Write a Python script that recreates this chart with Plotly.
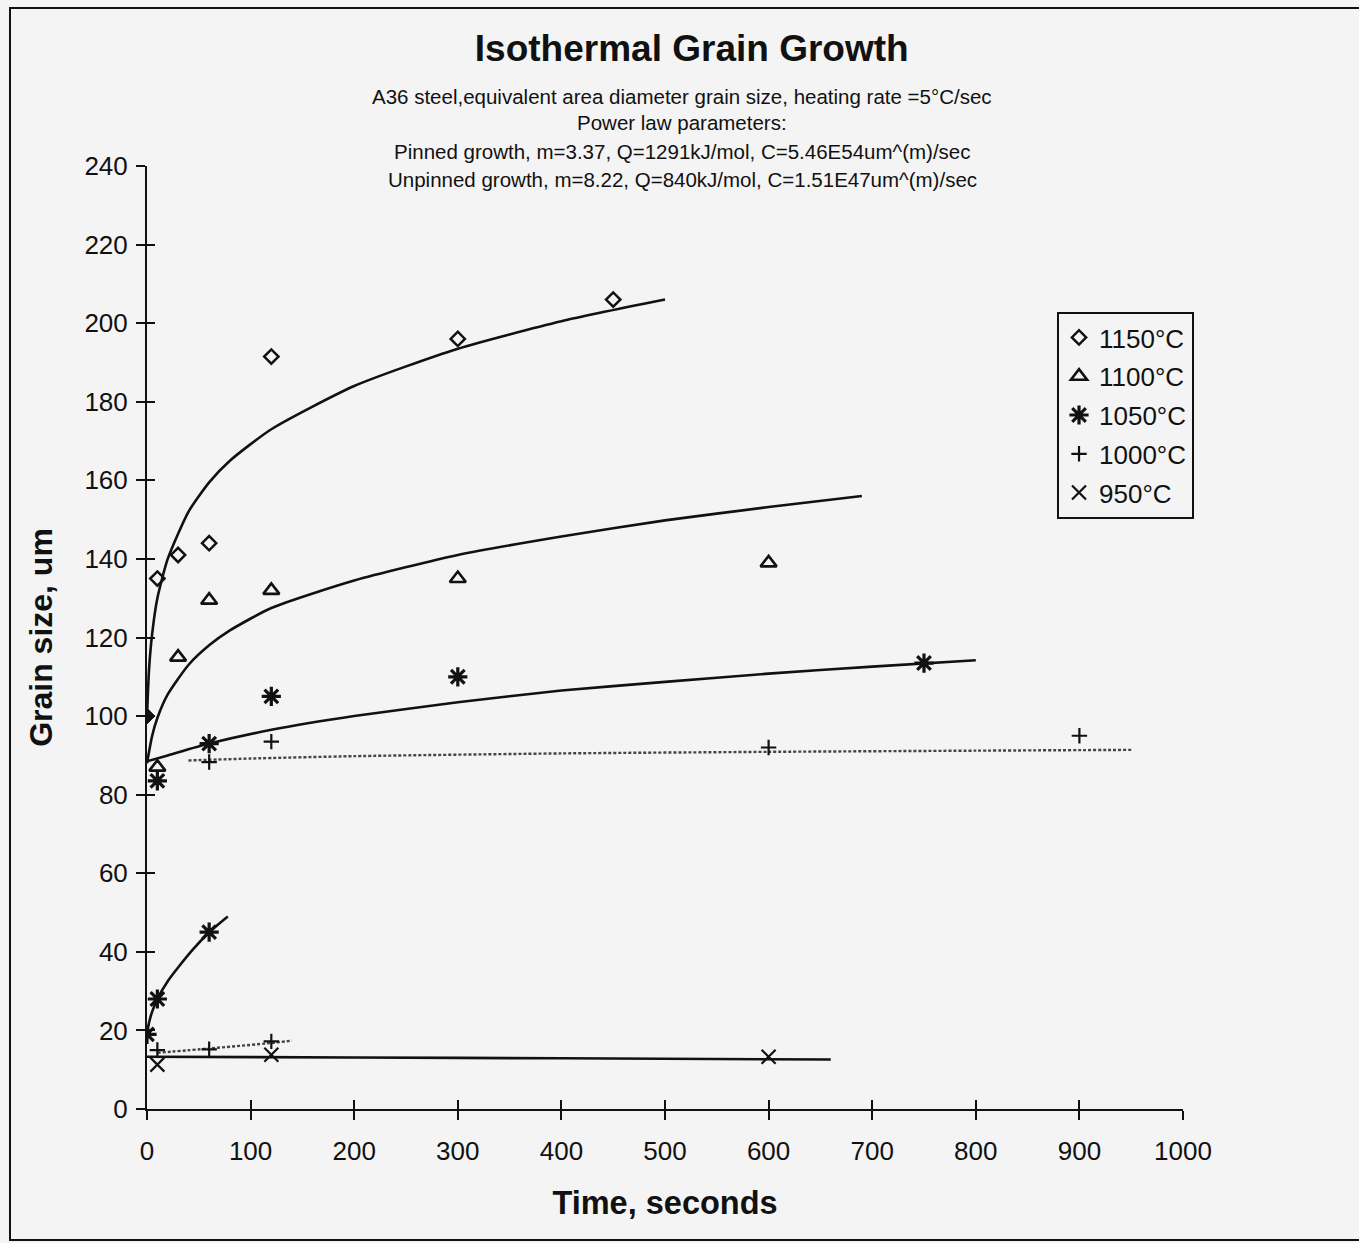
import plotly.graph_objects as go

# Measured grain sizes (um) vs. isothermal hold time (s)
t_1150 = [10, 30, 60, 120, 300, 450]
d_1150 = [135, 141, 144, 191.5, 196, 206]
t_start = [0]
d_start = [100]

t_1100 = [10, 30, 60, 120, 300, 600]
d_1100 = [87, 115, 129.5, 132, 135, 139]

t_1050 = [10, 60, 120, 300, 750, 0, 10, 60]
d_1050 = [83.5, 93, 105, 110, 113.5, 19, 28, 45]

t_1000 = [60, 120, 600, 900, 10, 60, 120]
d_1000 = [88.3, 93.5, 92, 95, 15, 15.2, 17.2]

t_950 = [10, 120, 600]
d_950 = [11.3, 13.8, 13.3]

# Power-law growth curves
fit_1150_t = [0, 2, 5, 10, 20, 40, 60, 80, 120, 200, 300, 400, 500]
fit_1150_d = [100, 112, 121, 130, 140, 152, 159.5, 165, 173, 184, 193.5, 200.5, 206]

fit_1100_t = [0, 5, 10, 20, 40, 60, 80, 120, 200, 300, 400, 500, 600, 690]
fit_1100_d = [88, 95, 99.5, 105.5, 113, 118, 121.8, 127.5, 134.5, 141, 145.7, 149.8, 153.2, 156]

fit_1050_t = [0, 20, 60, 120, 200, 300, 400, 500, 600, 700, 800]
fit_1050_d = [88.5, 90, 93, 96.5, 100, 103.5, 106.5, 108.7, 110.8, 112.6, 114.2]

fit_1000_t = [40, 100, 200, 400, 600, 800, 950]
fit_1000_d = [88.7, 89.2, 89.8, 90.5, 90.9, 91.2, 91.4]

fit_low_1050_t = [0, 2, 5, 10, 20, 30, 45, 60, 78]
fit_low_1050_d = [19, 22, 24.8, 28, 32.5, 36, 40.8, 45, 49]

fit_low_1000_t = [10, 60, 120, 140]
fit_low_1000_d = [14.3, 15.4, 16.8, 17.4]

fit_950_t = [0, 200, 400, 660]
fit_950_d = [13.3, 13.1, 12.9, 12.6]

x_ticks = [0, 100, 200, 300, 400, 500, 600, 700, 800, 900, 1000]
y_ticks = [0, 20, 40, 60, 80, 100, 120, 140, 160, 180, 200, 220, 240]

FONT = "Liberation Sans, Arial, Helvetica, sans-serif"
BG = "#f4f4f4"
INK = "#111111"

fig = go.Figure()

solid = dict(color=INK, width=2.6, shape="spline", smoothing=0.6)
dotted = dict(color="#444444", width=2.4, dash="3px,2px", shape="spline", smoothing=0.6)

curves = [
    (fit_1150_t, fit_1150_d, solid, "1150"),
    (fit_1100_t, fit_1100_d, solid, "1100"),
    (fit_1050_t, fit_1050_d, solid, "1050"),
    (fit_1000_t, fit_1000_d, dotted, "1000"),
    (fit_low_1050_t, fit_low_1050_d, solid, "1050"),
    (fit_low_1000_t, fit_low_1000_d, dotted, "1000"),
    (fit_950_t, fit_950_d, solid, "950"),
]
for tx, dy, ln, grp in curves:
    fig.add_trace(go.Scatter(x=tx, y=dy, mode="lines", line=ln,
                             legendgroup=grp, showlegend=False, hoverinfo="skip"))

series = [
    ("1150°C", "1150", t_1150, d_1150, "diamond-open", 11, 2.5),
    ("1100°C", "1100", t_1100, d_1100, "triangle-up-open", 14, 2.6),
    ("1050°C", "1050", t_1050, d_1050, "asterisk-open", 16, 3.2),
    ("1000°C", "1000", t_1000, d_1000, "cross-thin-open", 11, 2.2),
    ("950°C", "950", t_950, d_950, "x-thin-open", 14, 2.2),
]
for name, grp, tx, dy, sym, size, lw in series:
    fig.add_trace(go.Scatter(
        x=tx, y=dy, mode="markers", name=name, legendgroup=grp,
        marker=dict(symbol=sym, size=size, color=INK, line=dict(color=INK, width=lw)),
    ))

# initial grain size at t = 0
fig.add_trace(go.Scatter(
    x=t_start, y=d_start, mode="markers", legendgroup="1150", showlegend=False,
    marker=dict(symbol="diamond", size=12, color=INK, line=dict(color=INK, width=1)),
))

# companion axes carrying the inner half of the tick marks
fig.add_trace(go.Scatter(x=[], y=[], xaxis="x2", yaxis="y2", showlegend=False))

axis_common = dict(showgrid=False, zeroline=False, showline=True, linecolor=INK,
                   linewidth=2, ticks="outside", ticklen=9, tickwidth=2, tickcolor=INK,
                   tickfont=dict(family=FONT, size=26, color=INK))

fig.update_layout(
    width=1359, height=1243,
    paper_bgcolor=BG, plot_bgcolor=BG,
    margin=dict(l=147, r=176, t=166, b=134),
    showlegend=True,
    xaxis=dict(range=[0, 1000], tickvals=x_ticks, ticklabelstandoff=9,
               title=dict(text="<b>Time, seconds</b>", standoff=26,
                          font=dict(family=FONT, size=32.5, color=INK)),
               **axis_common),
    yaxis=dict(range=[0, 240], tickvals=y_ticks, ticklabelstandoff=3,
               title=dict(text="<b>Grain size, um</b>", standoff=22,
                          font=dict(family=FONT, size=32, color=INK)),
               **axis_common),
    xaxis2=dict(range=[0, 1000], tickvals=x_ticks, overlaying="x", anchor="y2",
                showgrid=False, zeroline=False, showline=False, showticklabels=False,
                ticks="inside", ticklen=9, tickwidth=2, tickcolor=INK, side="bottom"),
    yaxis2=dict(range=[0, 240], tickvals=y_ticks, overlaying="y", anchor="x2",
                showgrid=False, zeroline=False, showline=False, showticklabels=False,
                ticks="inside", ticklen=8, tickwidth=2, tickcolor=INK, side="left"),
    legend=dict(x=0.8784, y=0.8452, xanchor="left", yanchor="top",
                bgcolor=BG, bordercolor=INK, borderwidth=2,
                font=dict(family=FONT, size=26, color=INK),
                itemwidth=30, tracegroupgap=2, traceorder="grouped"),
    title=dict(text="<b>Isothermal Grain Growth</b>", x=0.509, xanchor="center",
               y=0.961, yanchor="middle", yref="container",
               font=dict(family=FONT, size=37, color=INK)),
)

sub_lines = [
    ("A36 steel,equivalent area diameter grain size, heating rate =5°C/sec", 96),
    ("Power law parameters:", 122),
    ("Pinned growth, m=3.37, Q=1291kJ/mol, C=5.46E54um^(m)/sec", 151),
    ("Unpinned growth, m=8.22, Q=840kJ/mol, C=1.51E47um^(m)/sec", 179),
]
for txt, py in sub_lines:
    fig.add_annotation(text=txt, xref="paper", yref="paper",
                       x=(682 - 147) / 1036, y=(1109 - py) / 943,
                       xanchor="center", yanchor="middle", showarrow=False,
                       font=dict(family=FONT, size=20.5, color=INK))

# outer chart frame
fig.add_shape(type="rect", xref="paper", yref="paper",
              x0=(10 - 147) / 1036, x1=(1366 - 147) / 1036,
              y0=(1109 - 1240) / 943, y1=(1109 - 8) / 943,
              line=dict(color=INK, width=2), fillcolor="rgba(0,0,0,0)", layer="below")

fig.write_html("out.html")
